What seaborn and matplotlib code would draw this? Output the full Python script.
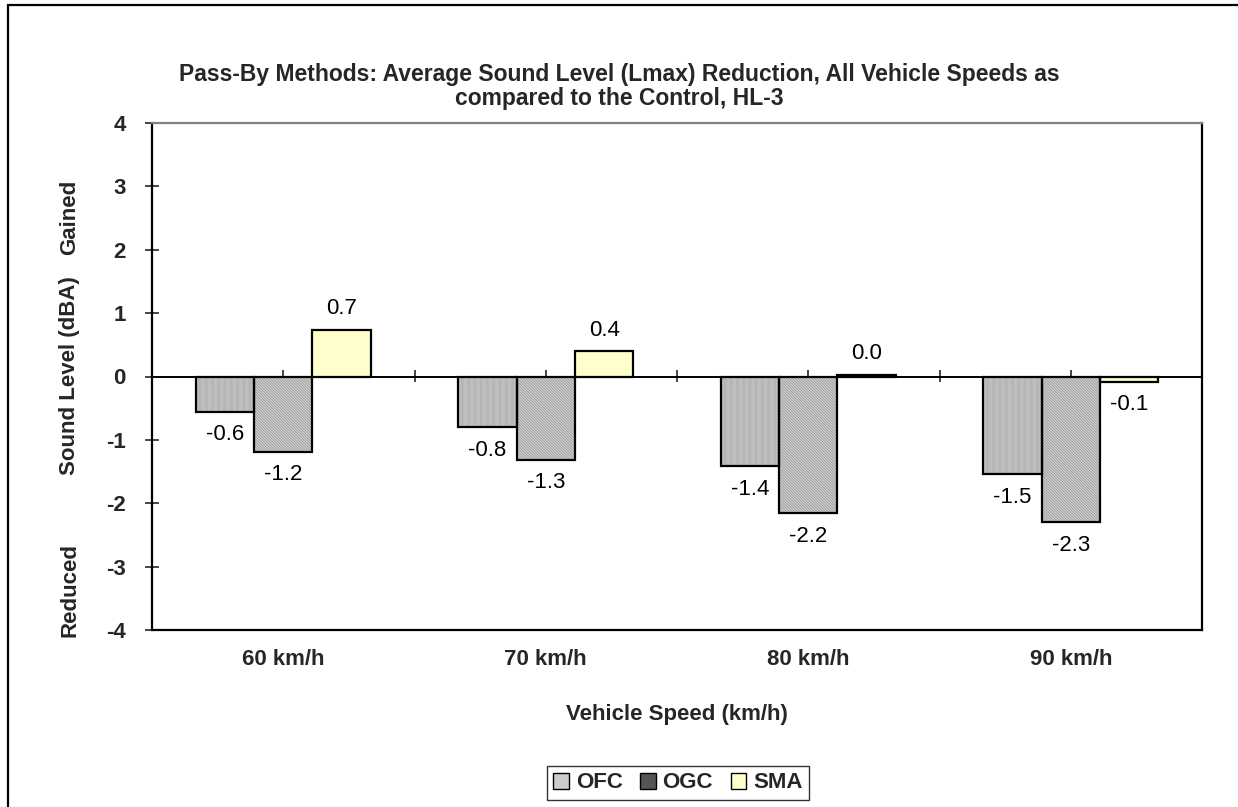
import matplotlib
matplotlib.use("Agg")
import matplotlib.pyplot as plt
from matplotlib.patches import Rectangle, Patch
import seaborn as sns
import pandas as pd

# Average Lmax change versus the control section, by surface type and speed
speeds = ["60 km/h", "70 km/h", "80 km/h", "90 km/h"]
surfaces = ["OFC", "OGC", "SMA"]
ofc = [-0.56, -0.80, -1.42, -1.54]
ogc = [-1.19, -1.31, -2.16, -2.30]
sma = [0.74, 0.40, 0.03, -0.08]
y_ticks = [-4, -3, -2, -1, 0, 1, 2, 3, 4]

df = pd.DataFrame({
    "speed": speeds * 3,
    "surface": [s for s in surfaces for _ in speeds],
    "value": ofc + ogc + sma,
})

sns.set_style("white")
plt.rcParams["font.family"] = ["Liberation Sans", "DejaVu Sans"]
plt.rcParams["hatch.linewidth"] = 0.5

FS = 16

fig = plt.figure(figsize=(12.38, 8.07), dpi=100)
ax = fig.add_axes([152 / 1238, 1 - 630 / 807, 1050 / 1238, 507 / 807])

styles = {
    "OFC": dict(face="#d8d8d8", hatch="|" * 14, hcolor="#a6a6a6"),
    "OGC": dict(face="#d2d2d2", hatch="\\" * 12, hcolor="#8e8e8e"),
    "SMA": dict(face="#ffffcc", hatch="", hcolor="#ffffcc"),
}

sns.barplot(data=df, x="speed", y="value", hue="surface", order=speeds,
            hue_order=surfaces, width=2 / 3, legend=False, ax=ax,
            palette=[styles[s]["face"] for s in surfaces], saturation=1)

for surf, cont in zip(surfaces, ax.containers):
    st = styles[surf]
    for bar in cont.patches:
        bar.set_facecolor(st["face"])
        bar.set_hatch(st["hatch"])
        bar.set_edgecolor(st["hcolor"])
        bar.set_linewidth(0)
        outline = Rectangle(bar.get_xy(), bar.get_width(), bar.get_height(),
                            fill=False, edgecolor="black", linewidth=1.6,
                            zorder=bar.get_zorder() + 0.1)
        ax.add_patch(outline)
        v = bar.get_height()
        cx = bar.get_x() + bar.get_width() / 2
        ax.annotate(f"{v:.1f}", (cx, v), xytext=(0, 15 if v >= 0 else -16.5),
                    textcoords="offset points", ha="center", va="center",
                    fontsize=FS, color="black")

ax.set_ylim(-4, 4)
ax.set_xlim(-0.5, 3.5)
ax.set_yticks(y_ticks)
ax.set_yticklabels([str(t) for t in y_ticks], fontsize=FS, fontweight="bold")
ax.tick_params(axis="y", direction="inout", length=10, width=1.2, pad=14, left=True)
ax.set_xticks(range(len(speeds)))
ax.set_xticklabels(speeds, fontsize=FS, fontweight="bold")
ax.tick_params(axis="x", length=0, pad=14)
ax.set_xlabel("Vehicle Speed (km/h)", fontsize=FS, fontweight="bold", labelpad=24)
ax.set_ylabel("")

# Category axis drawn across the zero line
ax.axhline(0, color="black", linewidth=1.4, zorder=5)
zero_axis = ax.secondary_xaxis(0.5)
zero_axis.set_xticks([0, 0.5, 1, 1.5, 2, 2.5, 3])
zero_axis.set_xticklabels([])
zero_axis.tick_params(direction="inout", length=9, width=1.2)
zero_axis.spines["bottom"].set_visible(False)
zero_axis.spines["top"].set_visible(False)

for name, sp in ax.spines.items():
    sp.set_visible(True)
    sp.set_linewidth(1.6)
    sp.set_color("#808080" if name == "top" else "black")

fig.text(0.5, 1 - 74 / 807,
         "Pass-By Methods: Average Sound Level (Lmax) Reduction, All Vehicle Speeds as",
         ha="center", va="center", fontsize=16.5, fontweight="bold")
fig.text(0.5, 1 - 98 / 807, "compared to the Control, HL-3",
         ha="center", va="center", fontsize=16.5, fontweight="bold")

fig.text(70 / 1238, 1 - 376 / 807, "Sound Level (dBA)", rotation=90,
         ha="center", va="center", fontsize=FS, fontweight="bold")
fig.text(70 / 1238, 1 - 217 / 807, "Gained", rotation=90,
         ha="center", va="center", fontsize=FS, fontweight="bold")
fig.text(70 / 1238, 1 - 590 / 807, "Reduced", rotation=90,
         ha="center", va="center", fontsize=FS, fontweight="bold")

legend_look = {
    "OFC": dict(facecolor="#cccccc", hatch=""),
    "OGC": dict(facecolor="#555555", hatch=""),
    "SMA": dict(facecolor="#ffffcc", hatch=""),
}
handles = [Patch(edgecolor="black", linewidth=1.0, **legend_look[s]) for s in surfaces]
leg = fig.legend(handles, surfaces, loc="center", ncol=3,
                 bbox_to_anchor=(678 / 1238, 1 - 783 / 807),
                 prop=dict(size=FS, weight="bold"), frameon=True,
                 fancybox=False, handlelength=0.7, handleheight=0.7,
                 handletextpad=0.3, columnspacing=0.8, borderpad=0.3)
leg.get_frame().set_edgecolor("black")
leg.get_frame().set_linewidth(1.0)

# Outer chart frame
fig.patches.append(Rectangle((8 / 1238, -0.05), 1.2, 1 - 5 / 807 + 0.05,
                             transform=fig.transFigure, fill=False,
                             edgecolor="black", linewidth=1.6))

fig.savefig("out.png", dpi=100)
